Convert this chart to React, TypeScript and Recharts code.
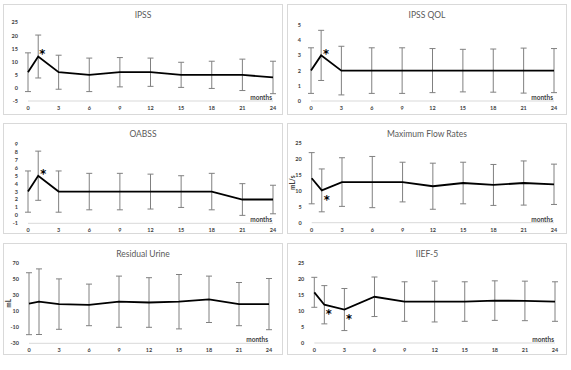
import React from 'react'
import { LineChart, Line, XAxis, YAxis, ErrorBar, ReferenceLine, LabelList } from 'recharts'

const months = [0, 1, 3, 6, 9, 12, 15, 18, 21, 24]
const monthTicks = [0, 3, 6, 9, 12, 15, 18, 21, 24]

const ipssMean = [6, 12, 6, 5, 6, 6, 5, 5, 5, 4]
const ipssSd = [7.4, 8.2, 6.5, 6.4, 5.6, 5.4, 4.8, 5.2, 6, 6.2]
const ipssSig = [1]
const ipssTicks = [-5, 0, 5, 10, 15, 20, 25]

const qolMean = [2, 3, 2, 2, 2, 2, 2, 2, 2, 2]
const qolSd = [1.5, 1.65, 1.6, 1.5, 1.5, 1.45, 1.4, 1.42, 1.48, 1.45]
const qolSig = [1]
const qolTicks = [0, 1, 2, 3, 4, 5]

const oabssMean = [3, 5, 3, 3, 3, 3, 3, 3, 2, 2]
const oabssSd = [2.6, 3.1, 2.6, 2.3, 2.3, 2.2, 2.0, 2.3, 2.0, 1.8]
const oabssSig = [1]
const oabssTicks = [-1, 0, 1, 2, 3, 4, 5, 6, 7, 8, 9]

const qmaxMean = [13.9, 10.1, 12.7, 12.7, 12.7, 11.4, 12.4, 11.8, 12.4, 12]
const qmaxSd = [8, 6.7, 7.6, 8, 6.2, 7.2, 6.5, 6.4, 6.9, 6.3]
const qmaxSig = [1]
const qmaxTicks = [0, 5, 10, 15, 20, 25]

const pvrMean = [19.5, 22, 19, 18, 22, 21, 22, 25, 19, 19]
const pvrSd = [38.7, 41, 31.5, 26, 32, 31, 34, 29, 27, 32]
const pvrSig: number[] = []
const pvrTicks = [-30, -10, 10, 30, 50, 70]

const iiefMean = [15.9, 12, 10.5, 14.5, 13, 13, 13, 13.3, 13.2, 13]
const iiefSd = [4.7, 6, 6.6, 6.2, 6.2, 6.4, 6.2, 6.2, 6.2, 6.2]
const iiefSig = [1, 3]
const iiefTicks = [0, 5, 10, 15, 20, 25]

const tickStyle = { fontSize: 5.5, fontWeight: 700, fill: '#404040', fontFamily: 'Lato' }

type PanelProps = {
  title: string
  mean: number[]
  sd: number[]
  sig: number[]
  yTicks: number[]
  yLabel?: string
  x: number
  y: number
  w: number
  h: number
  yw: number
  right: number
  top: number
  xh: number
  starDx: number
  starDy: number
}

const Panel = (p: PanelProps) => {
  const data = months.map((m, i) => ({ m, v: p.mean[i], e: p.sd[i], s: p.sig.includes(m) ? '*' : '' }))
  const yMin = p.yTicks[0]
  const yMax = p.yTicks[p.yTicks.length - 1]
  const star = (lp: any) =>
    lp.value ? (
      <text x={lp.x + p.starDx} y={lp.y + p.starDy} fontSize={11.5} fontWeight={700} fontFamily="DejaVu Sans" textAnchor="middle" dominantBaseline="central" fill="#000">
        *
      </text>
    ) : null
  return (
    <div style={{ position: 'absolute', left: p.x, top: p.y, width: p.w, height: p.h, boxShadow: 'inset 0 0 0 1px #d9d9d9', background: '#fff' }}>
      <LineChart width={p.w} height={p.h} data={data} margin={{ top: p.top, right: p.right, left: 0, bottom: 0 }}>
        <XAxis
          type="number"
          dataKey="m"
          domain={[0, 24]}
          ticks={monthTicks}
          interval={0}
          height={p.xh}
          tickLine={false}
          tickSize={0}
          tickMargin={5}
          axisLine={{ stroke: '#d9d9d9' }}
          tick={tickStyle}
        />
        <YAxis
          type="number"
          domain={[yMin, yMax]}
          ticks={p.yTicks}
          interval={0}
          width={p.yw}
          axisLine={false}
          tickLine={false}
          tickSize={0}
          tickMargin={10}
          tick={tickStyle}
          label={
            p.yLabel
              ? { value: p.yLabel, angle: -90, position: 'insideLeft', offset: 6, style: { textAnchor: 'middle', fontSize: 6.5, fontWeight: 700, fill: '#404040', fontFamily: 'Lato' } }
              : undefined
          }
        />
        <ReferenceLine
          y={yMin}
          stroke="none"
          label={{ value: 'months', position: 'insideBottomRight', offset: 1, style: { fontSize: 6.5, fontWeight: 700, fill: '#404040', fontFamily: 'Lato' } }}
        />
        <Line type="linear" dataKey="v" stroke="#000" strokeWidth={1.8} dot={false} isAnimationActive={false}>
          <ErrorBar dataKey="e" direction="y" width={3} strokeWidth={1} stroke="#808080" isAnimationActive={false} />
          <LabelList dataKey="s" content={star} />
        </Line>
      </LineChart>
      <div style={{ position: 'absolute', left: 0, top: 5, width: p.w, textAlign: 'center', fontFamily: 'Lato', fontSize: 8.5, lineHeight: '12px', color: '#595959' }}>
        {p.title}
      </div>
    </div>
  )
}

export default function App() {
  return (
    <div style={{ position: 'absolute', left: 0, top: 0, width: 571, height: 370, background: '#fff' }}>
      <Panel title="IPSS" mean={ipssMean} sd={ipssSd} sig={ipssSig} yTicks={ipssTicks}
        x={3} y={4} w={280} h={111} yw={25} right={10} top={18.5} xh={14} starDx={4} starDy={-3} />
      <Panel title="IPSS QOL" mean={qolMean} sd={qolSd} sig={qolSig} yTicks={qolTicks}
        x={287} y={4} w={280} h={111} yw={24} right={13} top={21} xh={14} starDx={5} starDy={-1} />
      <Panel title="OABSS" mean={oabssMean} sd={oabssSd} sig={oabssSig} yTicks={oabssTicks}
        x={3} y={123} w={280} h={111} yw={25} right={10} top={21} xh={10.7} starDx={5} starDy={-2} />
      <Panel title="Maximum Flow Rates" mean={qmaxMean} sd={qmaxSd} sig={qmaxSig} yTicks={qmaxTicks} yLabel="mL/s"
        x={287} y={123} w={280} h={111} yw={24.7} right={13} top={19.7} xh={11.3} starDx={5} starDy={10} />
      <Panel title="Residual Urine" mean={pvrMean} sd={pvrSd} sig={pvrSig} yTicks={pvrTicks} yLabel="mL"
        x={3} y={243} w={280} h={112} yw={26} right={14} top={20.3} xh={11.7} starDx={0} starDy={0} />
      <Panel title="IIEF-5" mean={iiefMean} sd={iiefSd} sig={iiefSig} yTicks={iiefTicks}
        x={287} y={243} w={280} h={112} yw={27.3} right={12} top={20.3} xh={12} starDx={4.5} starDy={9} />
    </div>
  )
}
